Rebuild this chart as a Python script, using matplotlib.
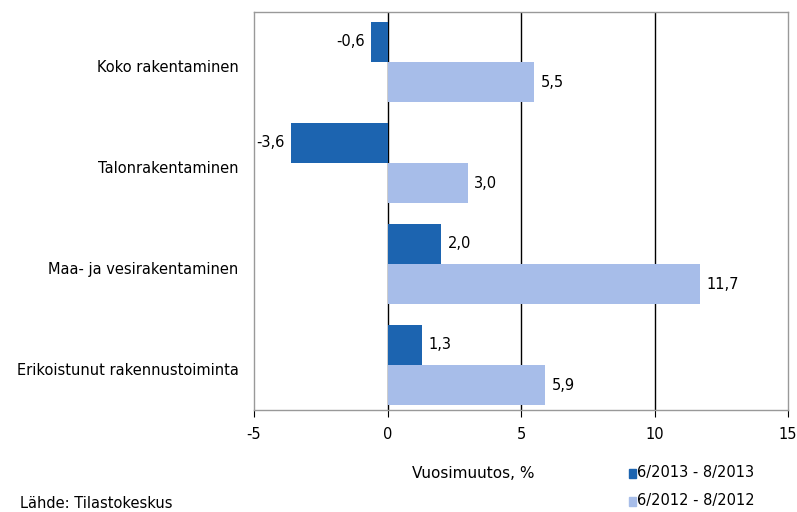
import numpy as np
import matplotlib
matplotlib.use('Agg')
import matplotlib.pyplot as plt

categories = ['Koko rakentaminen', 'Talonrakentaminen',
              'Maa- ja vesirakentaminen', 'Erikoistunut rakennustoiminta']
series_2013 = [-0.6, -3.6, 2.0, 1.3]
series_2012 = [5.5, 3.0, 11.7, 5.9]
legend_labels = ['6/2013 - 8/2013', '6/2012 - 8/2012']

dark = '#1c64b0'
light = '#a7bde9'

plt.rcParams['font.family'] = ['DejaVu Sans']
plt.rcParams['font.size'] = 10.5

fig = plt.figure(figsize=(7.97, 5.12), dpi=100)
ax = fig.add_axes([254 / 797, 1 - 410 / 512, (788 - 254) / 797, (410 - 12) / 512])

y = np.arange(len(categories))
h = 0.4
ax.barh(y - h / 2, series_2013, height=h, color=dark, zorder=3)
ax.barh(y + h / 2, series_2012, height=h, color=light, zorder=3)

def fmt(v):
    return f'{v:.1f}'.replace('.', ',')

for yi, v in zip(y - h / 2, series_2013):
    ax.text(v + (0.25 if v >= 0 else -0.25), yi, fmt(v),
            ha='left' if v >= 0 else 'right', va='center')
for yi, v in zip(y + h / 2, series_2012):
    ax.text(v + 0.25, yi, fmt(v), ha='left', va='center')

ax.set_xlim(-5, 15)
ax.set_ylim(3.445, -0.495)
ax.set_xticks([-5, 0, 5, 10, 15])
ax.set_xticklabels(['-5', '0', '5', '10', '15'])
ax.set_yticks(y + 0.04)
ax.set_yticklabels(categories)
ax.tick_params(axis='y', length=0, pad=11)
ax.tick_params(axis='x', length=5, direction='out', color='black', pad=7)

for xv in [0, 5, 10]:
    ax.axvline(xv, color='black', linewidth=1, zorder=2)
for s in ax.spines.values():
    s.set_color('#999999')
    s.set_linewidth(1)

fig.text(412 / 797, 1 - 473 / 512, 'Vuosimuutos, %', va='center', fontsize=11)
fig.text(20 / 797, 1 - 504 / 512, 'Lähde: Tilastokeskus', va='center')

for i, (lab, c) in enumerate(zip(legend_labels, [dark, light])):
    yy = 1 - (473 + i * 28) / 512
    fig.patches.append(plt.Rectangle((629 / 797, yy - 4.5 / 512), 7 / 797, 9 / 512,
                                     transform=fig.transFigure, color=c))
    fig.text(637 / 797, yy, lab, va='center')

fig.savefig('out.png', dpi=100)
